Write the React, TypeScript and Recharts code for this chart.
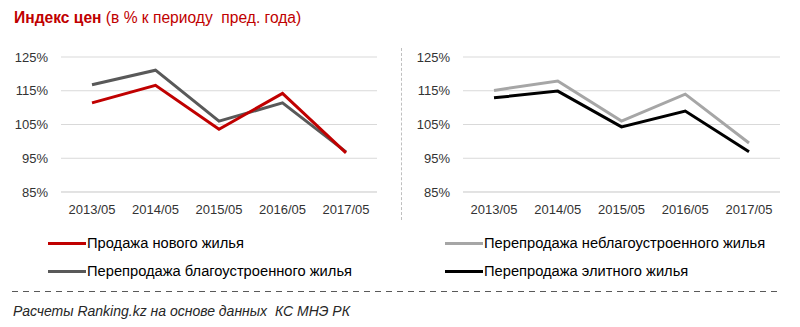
import { LineChart, Line, XAxis, YAxis, CartesianGrid } from "recharts"

const periods = ["2013/05", "2014/05", "2015/05", "2016/05", "2017/05"]
const newHousing = [111.4, 116.6, 103.6, 114.2, 96.6]
const resaleImproved = [116.8, 121.1, 106.0, 111.4, 96.9]
const resaleUnimproved = [115.1, 117.9, 106.0, 114.0, 99.5]
const resaleElite = [112.9, 114.9, 104.3, 109.0, 96.9]
const yTicks = [85, 95, 105, 115, 125]

const leftData = periods.map((p, i) => ({ p, a: newHousing[i], b: resaleImproved[i] }))
const rightData = periods.map((p, i) => ({ p, a: resaleUnimproved[i], b: resaleElite[i] }))

const FONT = "'Liberation Sans', Arial, sans-serif"
const tick = { fontSize: 13, fill: "#333333", fontFamily: FONT }

function Panel({ data, colors, left }: { data: any[]; colors: string[]; left: number }) {
  return (
    <div style={{ position: "absolute", left, top: 40 }}>
      <LineChart width={400} height={190} data={data} margin={{ top: 17, right: left ? 20 : 23, left: left ? 13 : 11, bottom: 8 }}>
        <CartesianGrid vertical={false} stroke="#d9d9d9" />
        <XAxis
          dataKey="p"
          tick={tick}
          axisLine={{ stroke: "#d9d9d9" }}
          tickLine={false}
          tickMargin={7}
          height={30}
          padding={{ left: 31, right: 31 }}
          interval={0}
        />
        <YAxis
          domain={[85, 125]}
          ticks={yTicks}
          tick={tick}
          tickFormatter={(v) => `${v}%`}
          axisLine={false}
          tickLine={false}
          tickMargin={7}
          width={50}
        />
        <Line dataKey="b" stroke={colors[1]} strokeWidth={3} dot={false} isAnimationActive={false} />
        <Line dataKey="a" stroke={colors[0]} strokeWidth={3} dot={false} isAnimationActive={false} />
      </LineChart>
    </div>
  )
}

function LegendItem({ x, y, color, label }: { x: number; y: number; color: string; label: string }) {
  return (
    <div style={{ position: "absolute", left: x, top: y - 10, height: 20, display: "flex", alignItems: "center" }}>
      <div style={{ width: 38, height: 3, background: color, marginRight: 1 }} />
      <span style={{ fontSize: 14.7, color: "#000", fontFamily: FONT, whiteSpace: "nowrap" }}>{label}</span>
    </div>
  )
}

export default function App() {
  return (
    <div style={{ position: "absolute", left: 0, top: 0, width: 800, height: 327, background: "#fff", fontFamily: FONT }}>
      <div style={{ position: "absolute", left: 14, top: 9, fontSize: 15.6, color: "#c00000", whiteSpace: "nowrap" }}>
        <b>Индекс цен</b> (в % к периоду&nbsp; пред. года)
      </div>
      <Panel data={leftData} colors={["#c00000", "#595959"]} left={0} />
      <div style={{ position: "absolute", left: 401, top: 48, height: 172, borderLeft: "1px dashed #bfbfbf" }} />
      <Panel data={rightData} colors={["#a6a6a6", "#000000"]} left={400} />
      <LegendItem x={48} y={243} color="#c00000" label="Продажа нового жилья" />
      <LegendItem x={48} y={271} color="#595959" label="Перепродажа благоустроенного жилья" />
      <LegendItem x={445} y={243} color="#a6a6a6" label="Перепродажа неблагоустроенного жилья" />
      <LegendItem x={445} y={271} color="#000000" label="Перепродажа элитного жилья" />
      <svg style={{ position: "absolute", left: 0, top: 289 }} width={800} height={5}>
        <line x1={12} x2={778} y1={2.5} y2={2.5} stroke="#595959" strokeWidth={1} strokeDasharray="6 5" />
      </svg>
      <div style={{ position: "absolute", left: 13, top: 303, fontSize: 14, fontStyle: "italic", color: "#262626", whiteSpace: "nowrap" }}>
        Расчеты Ranking.kz на основе данных&nbsp; КС МНЭ РК
      </div>
    </div>
  )
}
